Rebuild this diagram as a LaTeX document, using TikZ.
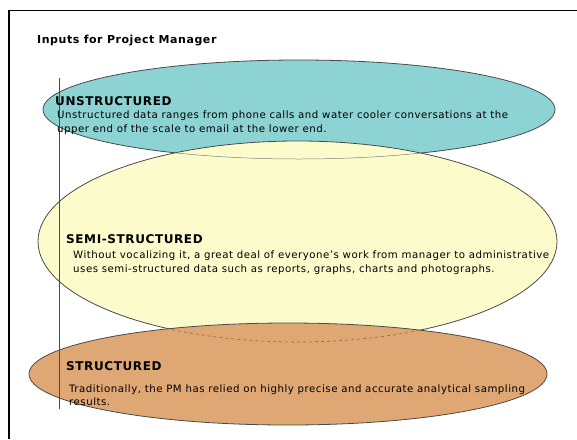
\documentclass[tikz,border=0pt]{standalone}
\usepackage{fontspec}
\setmainfont{DejaVu Sans}[LetterSpace=5]
\definecolor{cyanfill}{HTML}{8DD3D4}
\definecolor{yellowfill}{HTML}{FCFBCB}
\definecolor{orangefill}{HTML}{DFA773}
\definecolor{rimgray}{HTML}{4A4A4A}
\tikzset{
  rim/.style={draw=rimgray,line width=0.8pt},
  heading/.style={anchor=base west,inner sep=0pt,font=\fontsize{12}{14}\selectfont\bfseries},
  body/.style={anchor=base west,inner sep=0pt,align=left,font=\fontsize{10.2}{14}\selectfont}
}
\begin{document}
\begin{tikzpicture}[x=1pt,y=-1pt]
\useasboundingbox (0,0) rectangle (577,439);
\fill[white] (0,0) rectangle (577,439);
\draw[line width=1.2pt] (9,439) -- (9,10.5) -- (577,10.5);
\node[heading,font=\fontsize{11}{13}\selectfont\bfseries] (title) at (37,43) {Inputs for Project Manager};
\fill[cyanfill] (299,109.5) ellipse (256 and 49.5);
\draw[rim] (299,109.5) ellipse (256 and 49.5);
\fill[yellowfill] (297.5,241.5) ellipse (259.5 and 100.5);
\draw[rim] (297.5,241.5) ellipse (259.5 and 100.5);
\begin{scope}
\clip (297.5,241.5) ellipse (259.5 and 100.5);
\draw[gray,line width=0.5pt] (299,109.5) ellipse (256 and 49.5);
\end{scope}
\fill[orangefill] (288,374) ellipse (259 and 51);
\draw[rim] (288,374) ellipse (259 and 51);
\begin{scope}
\clip (288,374) ellipse (259 and 51);
\draw[brown!80!black,line width=0.6pt,dashed] (297.5,241.5) ellipse (259.5 and 100.5);
\end{scope}
\draw[rimgray,line width=0.9pt] (59,78) -- (59,409);
\node[heading] (unstr) at (55,105) {UNSTRUCTURED};
\node[body] (unstrtext) at (57,132) {Unstructured data ranges from phone calls and water cooler conversations at the\\upper end of the scale to email at the lower end.};
\node[heading] (semi) at (66,243) {SEMI-STRUCTURED};
\node[body] (semitext) at (73,272) {Without vocalizing it, a great deal of everyone's work from manager to administrative\\uses semi-structured data such as reports, graphs, charts and photographs.};
\node[heading] (str) at (66,370) {STRUCTURED};
\node[body,font=\fontsize{10.2}{13}\selectfont] (strtext) at (69,405) {Traditionally, the PM has relied on highly precise and accurate analytical sampling\\results.};
\end{tikzpicture}
\end{document}
